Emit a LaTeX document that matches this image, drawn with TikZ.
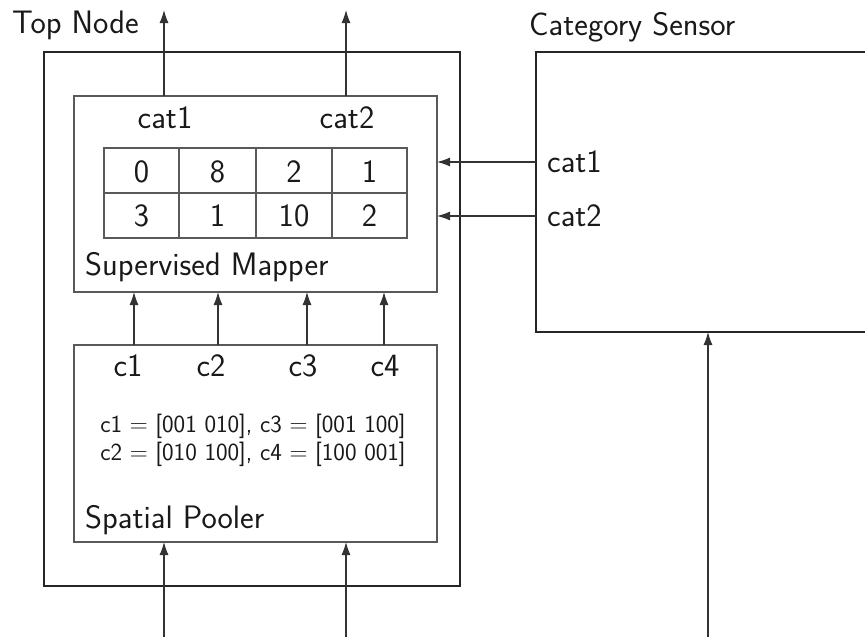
\documentclass[tikz,border=0pt]{standalone}
\usepackage{fontspec}
\usetikzlibrary{arrows.meta}
\begin{document}
\begin{tikzpicture}[x=1pt,y=-1pt,
  outerbox/.style={draw=black!85, line width=2pt, rectangle, inner sep=0pt, outer sep=0pt, anchor=north west},
  innerbox/.style={draw=black!65, line width=1.1pt, rectangle, inner sep=0pt, outer sep=0pt, anchor=north west},
  gridline/.style={draw=black!65, line width=1.1pt},
  arr/.style={draw=black!80, line width=1.1pt, -{Latex[length=13pt,width=9pt]}},
  big/.style={font=\fontsize{32.5}{38}\selectfont\sffamily, inner sep=0pt, text=black!90},
  small/.style={font=\fontsize{24.6}{30}\selectfont\sffamily, inner sep=0pt, text=black!90}
]
\useasboundingbox (0,0) rectangle (865,637);
\clip (0,0) rectangle (865,637);

% boxes
\node[outerbox, minimum width=416pt, minimum height=534pt] (top) at (44,52) {};
\node[outerbox, minimum width=400pt, minimum height=280pt] (cs) at (536,52) {};
\node[innerbox, minimum width=363pt, minimum height=196pt] (sm) at (74,96) {};
\node[innerbox, minimum width=363pt, minimum height=197pt] (sp) at (74,345) {};
\node[innerbox, minimum width=303pt, minimum height=90pt] (tbl) at (104,148) {};

% table grid
\draw[gridline] (tbl.west) -- (tbl.east);
\draw[gridline] (179,148) -- (179,238);
\draw[gridline] (256,148) -- (256,238);
\draw[gridline] (332,148) -- (332,238);

% titles
\node[big, anchor=base west] (toplbl) at (12,34) {Top Node};
\node[big, anchor=base west] (cslbl) at (529,35) {Category Sensor};

% supervised mapper
\node[big, anchor=base] (smcat1) at (165,128) {cat1};
\node[big, anchor=base] (smcat2) at (347,128) {cat2};
\node[big, anchor=base] (n11) at (141.5,182) {0};
\node[big, anchor=base] (n12) at (217.5,182) {8};
\node[big, anchor=base] (n13) at (294,182) {2};
\node[big, anchor=base] (n14) at (369.5,182) {1};
\node[big, anchor=base] (n21) at (141.5,226) {3};
\node[big, anchor=base] (n22) at (217.5,226) {1};
\node[big, anchor=base] (n23) at (294,226) {10};
\node[big, anchor=base] (n24) at (369.5,226) {2};
\node[big, anchor=base west] (smlbl) at (85,275) {Supervised Mapper};

% spatial pooler
\node[big, anchor=base] (c1) at (128,376) {c1};
\node[big, anchor=base] (c2) at (211,376) {c2};
\node[big, anchor=base] (c3) at (303,376) {c3};
\node[big, anchor=base] (c4) at (385,376) {c4};
\node[small, anchor=base] (f1) at (253,432) {c1 $=$ [001 010], c3 $=$ [001 100]};
\node[small, anchor=base] (f2) at (253,460) {c2 $=$ [010 100], c4 $=$ [100 001]};
\node[big, anchor=base west] (splbl) at (85,528) {Spatial Pooler};

% category sensor
\node[big, anchor=west] (cscat1) at (547,162) {cat1};
\node[big, anchor=west] (cscat2) at (547,216) {cat2};

% coordinates for free ends
\coordinate (o1) at (164,10);
\coordinate (o2) at (346,10);
\coordinate (q1) at (134,0);
\coordinate (q2) at (218,0);
\coordinate (q3) at (307,0);
\coordinate (q4) at (384,0);
\coordinate (i1) at (164,637);
\coordinate (i2) at (346,637);
\coordinate (i3) at (708,637);

% connectors
\draw[arr] (sm.north -| o1) -- (o1);
\draw[arr] (sm.north -| o2) -- (o2);
\draw[arr] (sp.north -| q1) -- (sm.south -| q1);
\draw[arr] (sp.north -| q2) -- (sm.south -| q2);
\draw[arr] (sp.north -| q3) -- (sm.south -| q3);
\draw[arr] (sp.north -| q4) -- (sm.south -| q4);
\draw[arr] (cs.west |- cscat1) -- (sm.east |- cscat1);
\draw[arr] (cs.west |- cscat2) -- (sm.east |- cscat2);
\draw[arr] (i1) -- (sp.south -| i1);
\draw[arr] (i2) -- (sp.south -| i2);
\draw[arr] (i3) -- (cs.south -| i3);
\end{tikzpicture}
\end{document}
